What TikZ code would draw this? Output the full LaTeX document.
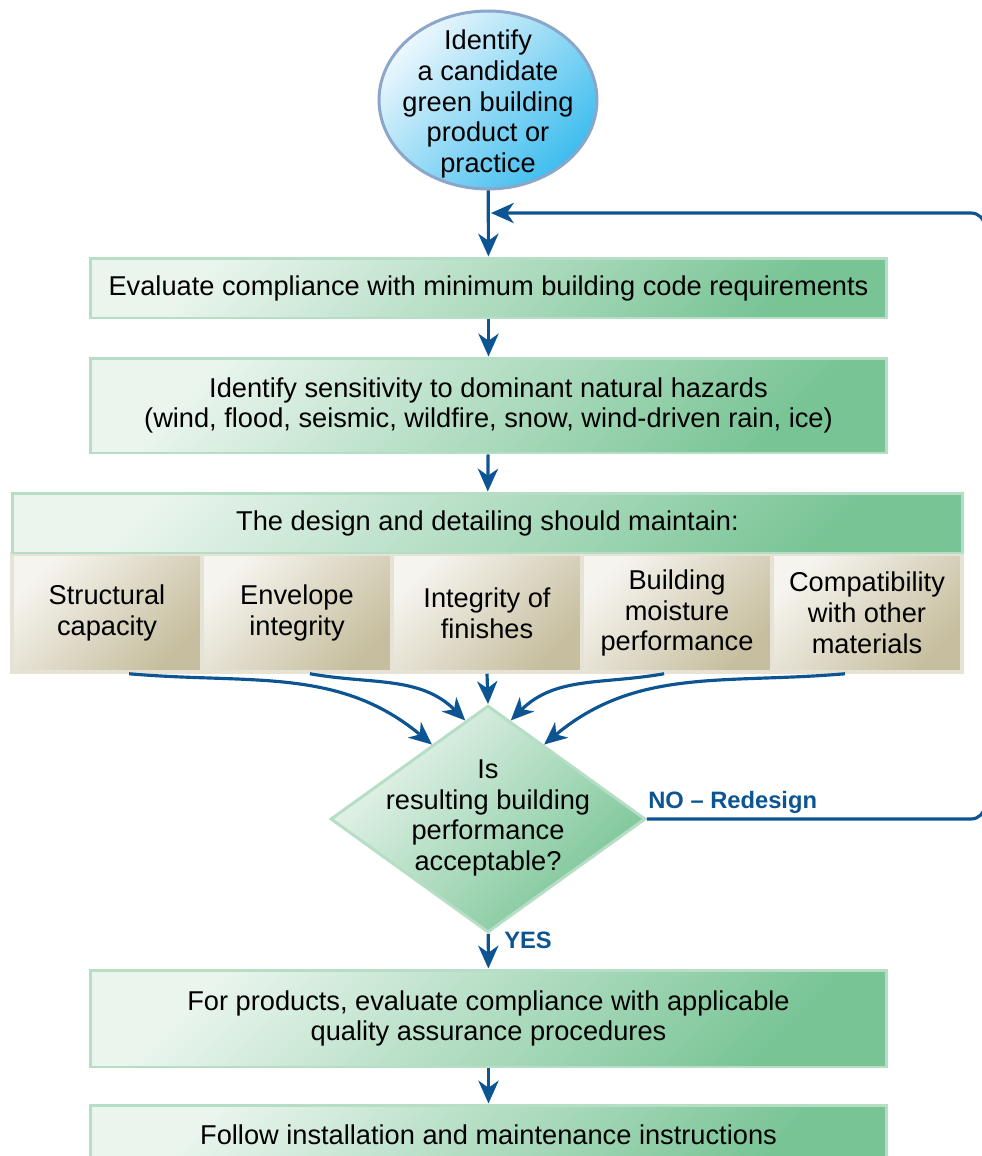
\documentclass[tikz,border=0pt]{standalone}
\usepackage{fontspec}
\setmainfont{Liberation Sans}
\usetikzlibrary{arrows.meta,shapes.geometric,positioning}

\definecolor{flowblue}{HTML}{0C5592}
\definecolor{greenlight}{HTML}{EAF5EE}
\definecolor{greendark}{HTML}{78C495}
\definecolor{greenedge}{HTML}{B6DEC4}
\definecolor{beigelight}{HTML}{F6F4EF}
\definecolor{beigedark}{HTML}{C6BE9E}
\definecolor{beigeedge}{HTML}{E6E2D6}
\definecolor{bluelight}{HTML}{ECF7FD}
\definecolor{bluedark}{HTML}{3EBDEE}
\definecolor{blueedge}{HTML}{8BA6C9}

\tikzset{
  flow/.style={draw=flowblue, line width=1.8pt,
    -{Stealth[length=13pt,width=11.5pt,inset=4pt]}},
  greenbox/.style={draw=greenedge, line width=1.7pt, top color=greenlight,
    bottom color=greendark, shading angle=45, align=center, inner sep=0pt},
  factor/.style={draw=beigeedge, line width=2pt, top color=beigelight,
    bottom color=beigedark, shading angle=45, align=center, inner sep=0pt,
    minimum width=3.8cm, minimum height=2.36cm},
  startnode/.style={ellipse, draw=blueedge, line width=1.7pt, top color=bluelight,
    bottom color=bluedark, shading angle=45, inner sep=0pt,
    minimum width=4.36cm, minimum height=3.56cm},
  decision/.style={diamond, draw=greenedge, line width=1.7pt, top color=greenlight,
    bottom color=greendark, shading angle=45, inner sep=0pt,
    minimum width=6.3cm, minimum height=4.54cm},
  answer/.style={text=flowblue, font=\fontsize{13.5pt}{16pt}\selectfont\bfseries, inner sep=0pt}
}

\begin{document}
\begin{tikzpicture}[x=0.02cm, y=0.02cm, font=\fontsize{15.5pt}{17.5pt}\selectfont]
  \useasboundingbox (0,0) rectangle (982,-1156);

  \node[startnode] (idea) at (488,-100) {};
  \node[align=center, inner sep=0pt] (ideatext) at (488,-104)
    {Identify\\a candidate\\green building\\product or\\practice};
  \node[greenbox, minimum width=15.94cm, minimum height=1.2cm] (code) at (488.5,-288)
    {Evaluate compliance with minimum building code requirements};
  \node[greenbox, minimum width=15.94cm, minimum height=1.9cm] (hazard) at (488.5,-405.5)
    {Identify sensitivity to dominant natural hazards\\(wind, flood, seismic, wildfire, snow, wind-driven rain, ice)};

  % the five things to keep
  \node[factor] (struct) at (107,-613) {Structural\\capacity};
  \node[factor] (envel) at (297,-613) {Envelope\\integrity};
  \node[factor] (finish) at (487,-613) {Integrity of\\finishes};
  \node[factor] (moist) at (677,-613) {Building\\moisture\\performance};
  \node[factor] (compat) at (867,-613) {Compatibility\\with other\\materials};
  \node[greenbox, minimum width=19.02cm, minimum height=1.2cm] (design) at (487.5,-523)
    {The design and detailing should maintain:};

  \node[decision] (check) at (488,-819) {};
  \node[align=center, inner sep=0pt] (question) at (488,-818)
    {Is\\resulting building\\performance\\acceptable?};

  \node[greenbox, minimum width=15.94cm, minimum height=1.94cm] (quality) at (488.5,-1018.5)
    {For products, evaluate compliance with applicable\\quality assurance procedures};
  \node[greenbox, minimum width=15.94cm, minimum height=1.2cm] (install) at (488.5,-1135)
    {Follow installation and maintenance instructions};

  \node[answer, anchor=south west] (no) at (648,-814) {NO -- Redesign};
  \node[answer, anchor=west] (yes) at (504,-940) {YES};
  \coordinate (merge) at (491,-213);

  \draw[flow] (idea) -- (code);
  \draw[flow] (code) -- (hazard);
  \draw[flow] (hazard) -- (design);
  \draw[flow] (struct.-70) to[out=-5, in=140] (check.127);
  \draw[flow] (envel.-78) to[out=-10, in=135] (check.103);
  \draw[flow] (finish.south) -- (check.north);
  \draw[flow] (moist.-102) to[out=190, in=45] (check.77);
  \draw[flow] (compat.-110) to[out=185, in=40] (check.53);
  \draw[flow] (check) -- (quality);
  \draw[flow] (quality) -- (install);
  \draw[flow, rounded corners=8pt] (check.east) -- (985,-819) -- (985,-213) -- (merge);
\end{tikzpicture}
\end{document}
